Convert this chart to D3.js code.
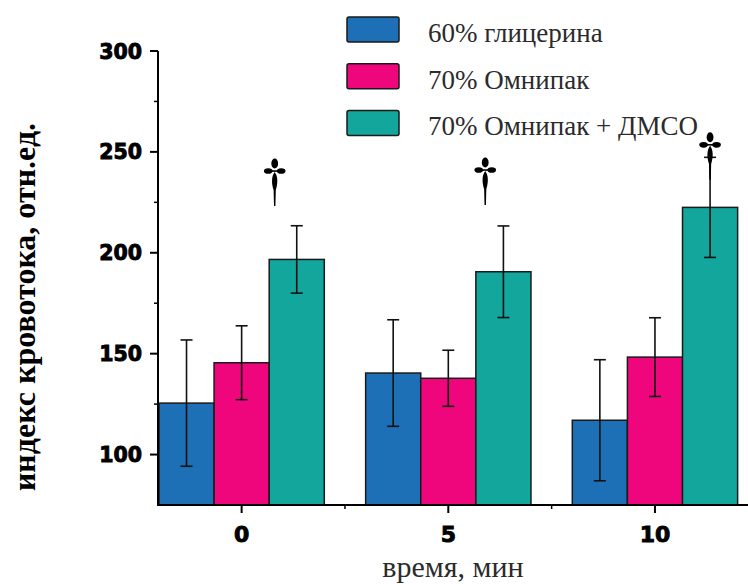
<!DOCTYPE html>
<html>
<head>
<meta charset="utf-8">
<script src="https://cdn.jsdelivr.net/npm/d3@7"></script>
<style>
  html, body { margin: 0; padding: 0; background: #fff; }
  svg { display: block; }
  .serif { font-family: "Liberation Serif", "Times New Roman", "DejaVu Serif", serif; }
</style>
</head>
<body>
<svg id="chart" width="748" height="584"></svg>
<script>
// ---- data ----
const categories = ["0", "5", "10"];
const seriesNames = ["60% глицерина", "70% Омнипак", "70% Омнипак + ДМСО"];
const glycerol = [125.5, 140.4, 117];
const glycerolErr = [31.3, 26.4, 30];
const omnipaque = [145.5, 137.8, 148.3];
const omnipaqueErr = [18.3, 13.9, 19.5];
const omnipaqueDmso = [196.7, 190.6, 222.5];
const omnipaqueDmsoErr = [16.7, 22.7, 24.8];
const yTickValues = [100, 150, 200, 250, 300];
const yMinorTickValues = [125, 175, 225, 275];
const daggerValues = [240.5, 241, 253.5];   // y value of dagger cross
const daggerShift = [-0.4, -0.33, 0];        // shift in teal-bar widths
const xTitle = "время, мин";
const yTitle = "индекс кровотока, отн.ед.";

// ---- styles ----
const colors = ["#1d6fb6", "#f0067c", "#13a69c"];
const svg = d3.select("#chart");

const mLeft = 158, mTop = 51, mBottom = 505, mRight = 748;

const x = d3.scaleBand().domain(categories).range([138.3, 758.3])
  .paddingInner(0.2).paddingOuter(0.1);
const xs = d3.scaleBand().domain(d3.range(3)).range([0, x.bandwidth()]);
const y = d3.scaleLinear().domain([75, 300]).range([mBottom, mTop]);

const values = [glycerol, omnipaque, omnipaqueDmso];
const errs = [glycerolErr, omnipaqueErr, omnipaqueDmsoErr];
const rows = [];
categories.forEach((c, i) => {
  for (let s = 0; s < 3; s++) rows.push({ c, i, s, v: values[s][i], e: errs[s][i] });
});

// bars
svg.append("g").selectAll("rect").data(rows).join("rect")
  .attr("x", d => x(d.c) + xs(d.s))
  .attr("y", d => y(d.v))
  .attr("width", xs.bandwidth())
  .attr("height", d => y(75) - y(d.v))
  .attr("fill", d => colors[d.s])
  .attr("stroke", "#1a1a1a")
  .attr("stroke-width", 1.5);

// error bars
const eg = svg.append("g").attr("stroke", "#111").attr("stroke-width", 1.6);
rows.forEach(d => {
  const cx = x(d.c) + xs(d.s) + xs.bandwidth() / 2;
  eg.append("line").attr("x1", cx).attr("x2", cx).attr("y1", y(d.v + d.e)).attr("y2", y(d.v - d.e));
  [d.v + d.e, d.v - d.e].forEach(v => {
    eg.append("line").attr("x1", cx - 6).attr("x2", cx + 6).attr("y1", y(v)).attr("y2", y(v));
  });
});

// daggers
categories.forEach((c, i) => {
  const cx = x(c) + xs(2) + xs.bandwidth() / 2 + daggerShift[i] * xs.bandwidth();
  const cy = y(daggerValues[i]);
  const g = svg.append("g").attr("transform", `translate(${cx},${cy})`).attr("fill", "#000");
  g.append("ellipse").attr("cx", 0).attr("cy", -7.5).attr("rx", 3.4).attr("ry", 5);
  g.append("ellipse").attr("cx", -6.5).attr("cy", 0).attr("rx", 4.3).attr("ry", 2.8);
  g.append("ellipse").attr("cx", 6.5).attr("cy", 0).attr("rx", 4.3).attr("ry", 2.8);
  g.append("rect").attr("x", -9).attr("y", -0.8).attr("width", 18).attr("height", 1.6);
  g.append("path").attr("d", "M0,1 C3.2,5 3.4,12 1.1,19 L0.7,35 L-0.7,35 L-1.1,19 C-3.4,12 -3.2,5 0,1 Z");
});

// axes lines
svg.append("line").attr("x1", mLeft).attr("x2", mLeft).attr("y1", mTop).attr("y2", mBottom + 1)
  .attr("stroke", "#000").attr("stroke-width", 2);
svg.append("line").attr("x1", mLeft - 1).attr("x2", mRight).attr("y1", mBottom).attr("y2", mBottom)
  .attr("stroke", "#000").attr("stroke-width", 2);

// y ticks
const yAxis = svg.append("g");
yTickValues.forEach(v => {
  yAxis.append("line").attr("x1", mLeft - 8).attr("x2", mLeft).attr("y1", y(v)).attr("y2", y(v))
    .attr("stroke", "#000").attr("stroke-width", 2);
  yAxis.append("text").attr("x", 142).attr("y", y(v)).attr("dy", "0.37em")
    .attr("text-anchor", "end")
    .attr("font-family", "DejaVu Sans").attr("font-weight", "bold").attr("font-size", 20.5)
    .attr("stroke", "#000").attr("stroke-width", 0.9)
    .text(v);
});
yMinorTickValues.forEach(v => {
  yAxis.append("line").attr("x1", mLeft - 4).attr("x2", mLeft).attr("y1", y(v)).attr("y2", y(v))
    .attr("stroke", "#000").attr("stroke-width", 1.5);
});

// x ticks
const xAxis = svg.append("g");
categories.forEach((c, i) => {
  const cx = x(c) + x.bandwidth() / 2;
  xAxis.append("line").attr("x1", cx).attr("x2", cx).attr("y1", mBottom).attr("y2", mBottom + 8)
    .attr("stroke", "#000").attr("stroke-width", 2);
  xAxis.append("text").attr("x", cx).attr("y", 542).attr("text-anchor", "middle")
    .attr("font-family", "DejaVu Sans").attr("font-weight", "bold").attr("font-size", 22)
    .attr("stroke", "#000").attr("stroke-width", 0.9)
    .text(c);
  if (i < categories.length - 1) {
    const mx = (cx + x(categories[i + 1]) + x.bandwidth() / 2) / 2;
    xAxis.append("line").attr("x1", mx).attr("x2", mx).attr("y1", mBottom).attr("y2", mBottom + 4)
      .attr("stroke", "#000").attr("stroke-width", 1.5);
  }
});

// axis titles
svg.append("text").attr("class", "serif").attr("x", 453).attr("y", 577).attr("text-anchor", "middle")
  .attr("font-size", 30).attr("fill", "#2b2b2b")
  .text(xTitle);
svg.append("text").attr("class", "serif").attr("transform", "translate(35,307) rotate(-90)").attr("text-anchor", "middle")
  .attr("font-weight", "bold").attr("font-size", 32)
  .attr("fill", "#000")
  .text(yTitle);

// legend
const lg = svg.append("g");
seriesNames.forEach((n, i) => {
  const ty = 17 + i * 46.7;
  lg.append("rect").attr("x", 347).attr("y", ty).attr("width", 52).attr("height", 25).attr("rx", 2)
    .attr("fill", colors[i]).attr("stroke", "#1a1a1a").attr("stroke-width", 1.5);
  lg.append("text").attr("class", "serif").attr("x", 428).attr("y", ty + 25)
    .attr("font-size", 27).attr("fill", "#2b2b2b")
    .text(n);
});
</script>
</body>
</html>
